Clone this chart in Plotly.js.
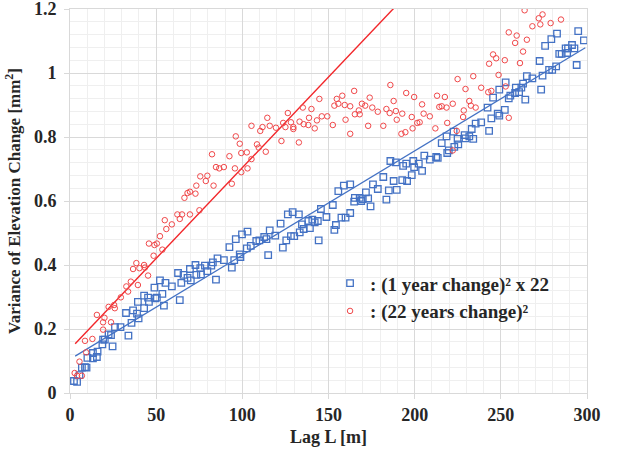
<!DOCTYPE html>
<html>
<head>
<meta charset="utf-8">
<script src="https://cdn.plot.ly/plotly-3.0.1.min.js"></script>
<style>html,body{margin:0;padding:0;background:#fff;}#chart{width:620px;height:453px;}</style>
</head>
<body>
<div id="chart"></div>
<script>
// (1 year change)^2 x 22 — blue squares
const lag1yr = [2.3,4.1,5.5,6.9,8.7,9.6,10.1,13.3,13.3,15.6,16,18.8,19.2,20.2,22.4,23.8,24.7,26.1,29.3,32.5,33.9,35.7,36.6,38.9,39.4,39.8,43,43,45.3,45.8,49,49.5,50.4,52.2,53.6,54.5,55.4,59.1,62.7,63.7,64.6,65.9,68.2,69.6,70.1,72.8,73.3,75.6,76,78.3,79.7,82,82.9,84.7,85.6,89.3,92.5,93.9,95.3,96.2,98.5,98.9,99.8,102.6,103,104.9,108.1,109.9,112.7,114,115,115.9,119.1,122.2,123.5,125.5,126.4,128.2,129.2,130.1,132.8,133.3,134.6,135.6,138.3,139.2,140.6,142,143.8,144.3,145.6,148.8,152.5,153.4,154.3,155.7,157.5,158.9,159.9,162.6,162.6,164.9,165.3,168.1,169,169.9,171.7,173,174.4,175.8,178.6,181.8,183.6,185,185.9,187.8,189.1,189.6,192.8,193.3,195.1,195.6,198.3,199.2,199.7,202.4,204.3,205.6,208.8,212.5,213.4,215.7,218.5,218.9,219.8,222.6,223,224.9,225.3,229,229.5,231.7,233.1,234,235.4,238.6,242.3,243.2,244.5,245.5,248.2,249.1,249.1,252.3,252.8,254.6,255.5,258.3,258.7,260.6,261.9,262.9,264.2,265.1,268.3,272.5,273.4,274.2,275.7,278,279.3,279.8,282.1,282.6,283.9,285.3,287.6,288.5,289,291.3,292.7,294,294.9,298.2];
const var1yr = [0.0375,0.035,0.056,0.079,0.081,0.079,0.110,0.125,0.108,0.1125,0.129,0.152,0.167,0.167,0.183,0.181,0.146,0.206,0.206,0.25,0.179,0.219,0.258,0.248,0.285,0.233,0.304,0.265,0.298,0.285,0.329,0.296,0.298,0.352,0.310,0.273,0.344,0.333,0.375,0.290,0.344,0.369,0.360,0.3875,0.352,0.400,0.369,0.390,0.371,0.398,0.381,0.398,0.408,0.354,0.421,0.415,0.456,0.392,0.415,0.481,0.433,0.425,0.496,0.452,0.504,0.460,0.475,0.477,0.4875,0.481,0.431,0.508,0.492,0.529,0.454,0.477,0.558,0.490,0.565,0.490,0.558,0.502,0.527,0.5125,0.5375,0.515,0.542,0.533,0.5375,0.477,0.575,0.55,0.5875,0.510,0.525,0.631,0.548,0.648,0.548,0.652,0.5625,0.598,0.610,0.610,0.6,0.606,0.627,0.608,0.583,0.652,0.6375,0.675,0.604,0.633,0.725,0.6625,0.721,0.635,0.665,0.710,0.717,0.6625,0.681,0.725,0.706,0.717,0.694,0.742,0.729,0.7375,0.735,0.781,0.802,0.75,0.758,0.817,0.769,0.794,0.777,0.806,0.796,0.802,0.825,0.794,0.842,0.846,0.892,0.819,0.858,0.923,0.873,0.867,0.948,0.885,0.971,0.921,0.929,0.9375,0.954,0.940,0.954,0.967,0.917,0.990,0.983,1.0375,0.948,0.992,1.085,1.010,1.106,1.010,1.021,1.123,1.060,1.060,1.077,1.0625,1.077,1.0875,1.077,1.025,1.131,1.102];

// (22 years change)^2 — red circles
const lag22yr = [2.7,4.1,5.5,6.9,8.7,9.4,13,15.6,19.2,19.2,20,22.4,23.8,25.6,26,29.5,32.7,33.7,35.3,36.6,38.5,39.4,40.3,43,43.5,45.3,45.8,48.5,49,50.4,52.2,53.6,55,55.9,59.1,62.3,63.7,65,66.4,68.2,69.6,69.6,72.8,73.3,75.1,75.6,78.8,79.7,82.4,83.3,84.7,86.6,89.3,92.5,93.9,95.7,96.2,98.5,99.4,99.4,102.6,103,105.3,105.3,108.5,109.5,110.4,111.7,113.6,114.5,115.9,119.5,122.7,123.7,125,126.4,128.2,129.6,129.6,132.8,133.2,135.1,135.6,138.3,138.7,140.1,142,143.3,144.7,146.1,149.3,152.5,153.4,154.8,155.7,158,159.4,159.9,162.6,162.6,164.9,165.3,167.6,168.1,169.4,171.3,173,173.9,175.4,178.6,181.8,183.6,185.5,185.9,187.8,189.1,189.6,192.3,192.8,194.6,195.1,198.3,198.8,199.7,201.5,202.9,204.3,205.2,208.8,212,213,214.3,215.7,217.5,218.5,218.9,222.1,222.1,224.4,224.9,228.1,228.5,229.5,231.7,232.6,234,235.4,238.6,242.7,243.2,244.5,245.5,247.3,248.7,252.3,252.8,254.6,254.6,258.3,259.2,261.1,262.9,263.8,265.1,268.3,272,272.9,274.2,278.9,284.9];
const var22yr = [0.0625,0.054,0.098,0.054,0.163,0.127,0.169,0.244,0.221,0.198,0.235,0.269,0.221,0.275,0.265,0.299,0.333,0.317,0.348,0.3875,0.406,0.3375,0.390,0.4,0.392,0.367,0.467,0.429,0.4625,0.467,0.49,0.448,0.54,0.5125,0.527,0.558,0.544,0.558,0.610,0.625,0.629,0.558,0.623,0.648,0.571,0.677,0.6625,0.679,0.746,0.648,0.706,0.702,0.706,0.740,0.654,0.702,0.802,0.779,0.75,0.690,0.752,0.702,0.731,0.835,0.777,0.767,0.819,0.831,0.754,0.860,0.835,0.829,0.7875,0.844,0.831,0.875,0.846,0.831,0.825,0.783,0.848,0.892,0.840,0.8375,0.860,0.8875,0.827,0.852,0.919,0.8646,0.8646,0.8375,0.898,0.919,0.904,0.929,0.9,0.854,0.810,0.896,0.944,0.871,0.883,0.871,0.904,0.898,0.835,0.923,0.892,0.879,0.835,0.8875,0.875,0.9625,0.9125,0.881,0.854,0.810,0.873,0.815,0.9375,0.8625,0.827,0.925,0.844,0.846,0.902,0.873,0.8646,0.827,0.929,0.894,0.896,0.925,0.892,0.844,0.904,0.758,0.819,0.981,0.8625,0.883,0.95,0.9125,0.898,0.990,0.892,0.954,0.940,1.029,0.944,1.058,1.046,0.994,1.040,0.958,0.860,1.127,1.094,1.117,1.031,1.067,1.196,1.104,1.146,1.171,1.152,1.183,1.156,1.167];

// Trend lines (slope, intercept, lag span)
const trend1yr = {slope: 0.003255, intercept: 0.1055, from: 3, to: 299};
const trend22yr = {slope: 0.00567, intercept: 0.137, from: 3, to: 195};

// Axis ticks
const xTickVals = [0, 50, 100, 150, 200, 250, 300];
const yTickVals = [0, 0.2, 0.4, 0.6, 0.8, 1, 1.2];
const yTickText = ['0', '0.2', '0.4', '0.6', '0.8', '1', '1.2'];

const legendNames = [': (1 year change)\u00B2 x 22', ': (22 years change)\u00B2'];
const xTitle = 'Lag L [m]';
const yTitle = 'Variance of Elevation Change [mm<sup>2</sup>]';

function line(t) {
  const xs = [t.from, t.to];
  return {x: xs, y: xs.map(v => t.slope * v + t.intercept)};
}

const blue = '#4472C4';
const redPt = '#F0484A';
const redLn = '#F2262A';
const serif = 'Liberation Serif, Times New Roman, serif';

const l1 = line(trend1yr), l22 = line(trend22yr);

const traces = [
  {x: l1.x, y: l1.y, mode: 'lines', line: {color: blue, width: 1.2}, showlegend: false, hoverinfo: 'skip'},
  {x: l22.x, y: l22.y, mode: 'lines', line: {color: redLn, width: 1.4}, showlegend: false, hoverinfo: 'skip'},
  {x: lag1yr, y: var1yr, mode: 'markers', name: legendNames[0],
   marker: {symbol: 'square-open', size: 6.5, color: blue, line: {width: 1.3, color: blue}}},
  {x: lag22yr, y: var22yr, mode: 'markers', name: legendNames[1],
   marker: {symbol: 'circle-open', size: 5.5, color: redPt, line: {width: 1, color: redPt}}}
];

const axisCommon = {
  showline: true, mirror: true, linecolor: '#d9d9d9', linewidth: 1,
  gridcolor: '#d9d9d9', gridwidth: 1, zeroline: false,
  ticks: 'outside', ticklen: 5, tickcolor: '#d9d9d9',
  ticklabeloverflow: 'allow',
  tickfont: {family: serif, size: 18, color: '#262626', weight: 700}
};

const layout = {
  width: 620, height: 453,
  margin: {l: 70, r: 33, t: 9, b: 60},
  paper_bgcolor: '#fff', plot_bgcolor: '#fff',
  xaxis: Object.assign({}, axisCommon, {
    range: [0, 300], tickmode: 'array', tickvals: xTickVals,
    minor: {dtick: 10, tick0: 0, showgrid: true, gridcolor: '#efefef', ticks: ''},
    title: {text: xTitle, font: {family: serif, size: 18, color: '#262626', weight: 700}, standoff: 6}
  }),
  yaxis: Object.assign({}, axisCommon, {
    range: [0, 1.2], tickmode: 'array', tickvals: yTickVals, ticktext: yTickText,
    ticklabelstandoff: 4,
    minor: {dtick: 0.04, tick0: 0, showgrid: true, gridcolor: '#efefef', ticks: ''},
    title: {text: yTitle, font: {family: serif, size: 17, color: '#262626', weight: 700}, standoff: 8}
  }),
  showlegend: true,
  legend: {
    x: 0.503, y: 0.335, xanchor: 'left', yanchor: 'top',
    bgcolor: 'rgba(0,0,0,0)', borderwidth: 0,
    font: {family: serif, size: 19, color: '#262626', weight: 700},
    itemwidth: 30, tracegroupgap: 0
  }
};

Plotly.newPlot('chart', traces, layout, {displayModeBar: false, staticPlot: true});
</script>
</body>
</html>
